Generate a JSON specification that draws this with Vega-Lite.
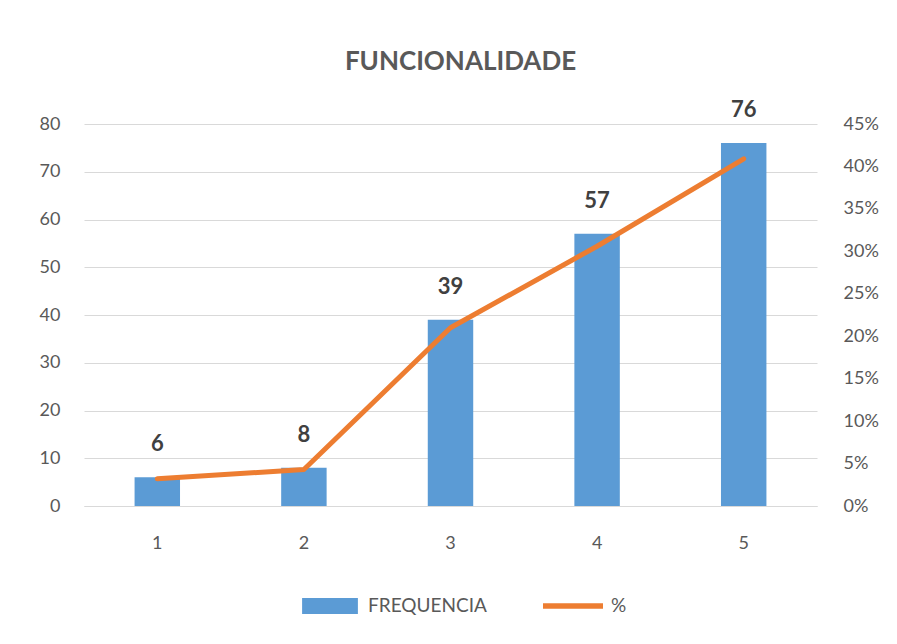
{
  "$schema": "https://vega.github.io/schema/vega-lite/v6.json",
  "autosize": "none",
  "width": 733,
  "height": 382,
  "padding": {"left": 84, "top": 124, "right": 80, "bottom": 138},
  "background": "white",
  "config": {
    "font": "Lato",
    "view": {"stroke": null},
    "axis": {"labelFont": "Lato", "labelFontSize": 18, "labelColor": "#595959", "ticks": false, "domain": false, "grid": false}
  },
  "title": {"text": "FUNCIONALIDADE", "fontSize": 26, "fontWeight": "bold", "color": "#595959", "font": "Lato", "offset": 36, "dx": 10, "dy": 12},
  "data": {"values": [
    {"cat": "1", "freq": 6, "pct": 0.032},
    {"cat": "2", "freq": 8, "pct": 0.043},
    {"cat": "3", "freq": 39, "pct": 0.210},
    {"cat": "4", "freq": 57, "pct": 0.306},
    {"cat": "5", "freq": 76, "pct": 0.409}
  ]},
  "encoding": {
    "x": {"field": "cat", "type": "nominal", "scale": {"paddingInner": 0.69, "paddingOuter": 0.345}, "axis": {"title": null, "labelAngle": 0, "labelPadding": 28, "domain": true, "domainColor": "#d9d9d9", "domainWidth": 1}}
  },
  "layer": [
    {
      "layer": [
        {
          "mark": {"type": "bar", "color": "#5B9BD5"},
          "encoding": {
            "y": {"field": "freq", "type": "quantitative", "scale": {"domain": [0, 80]}, "axis": {"title": null, "values": [0,10,20,30,40,50,60,70,80], "grid": true, "gridColor": "#d9d9d9", "gridWidth": 1, "labelPadding": 24}},
            "color": {"datum": "FREQUENCIA", "type": "nominal", "scale": {"domain": ["FREQUENCIA", "%"], "range": ["#5B9BD5", "#ED7D31"]},
              "legend": {"title": null, "orient": "none", "legendX": 216, "legendY": 452, "direction": "horizontal", "labelFontSize": 19, "labelColor": "#595959", "labelFont": "Lato", "columnPadding": 56, "labelOffset": 8, "symbolSize": 3600,
                "encode": {"symbols": {"update": {"shape": {"signal": "datum.value === '%' ? 'M-1,-0.09H1V0.09H-1Z' : 'M-0.93,-0.27H0.93V0.27H-0.93Z'"}, "strokeWidth": {"value": 0}, "fillOpacity": {"value": 1}}}}}}
          }
        },
        {
          "mark": {"type": "text", "dy": -33, "fontSize": 22, "fontWeight": "bold", "color": "#404040", "font": "Lato"},
          "encoding": {
            "y": {"field": "freq", "type": "quantitative"},
            "text": {"field": "freq", "type": "quantitative"}
          }
        }
      ]
    },
    {
      "mark": {"type": "line", "strokeWidth": 5, "strokeCap": "round", "strokeJoin": "round"},
      "encoding": {
        "y": {"field": "pct", "type": "quantitative", "scale": {"domain": [0, 0.45]}, "axis": {"title": null, "orient": "right", "format": ".0%", "values": [0,0.05,0.1,0.15,0.2,0.25,0.3,0.35,0.4,0.45], "labelPadding": 26}},
        "color": {"datum": "%", "type": "nominal"}
      }
    }
  ],
  "resolve": {"scale": {"y": "independent"}}
}
